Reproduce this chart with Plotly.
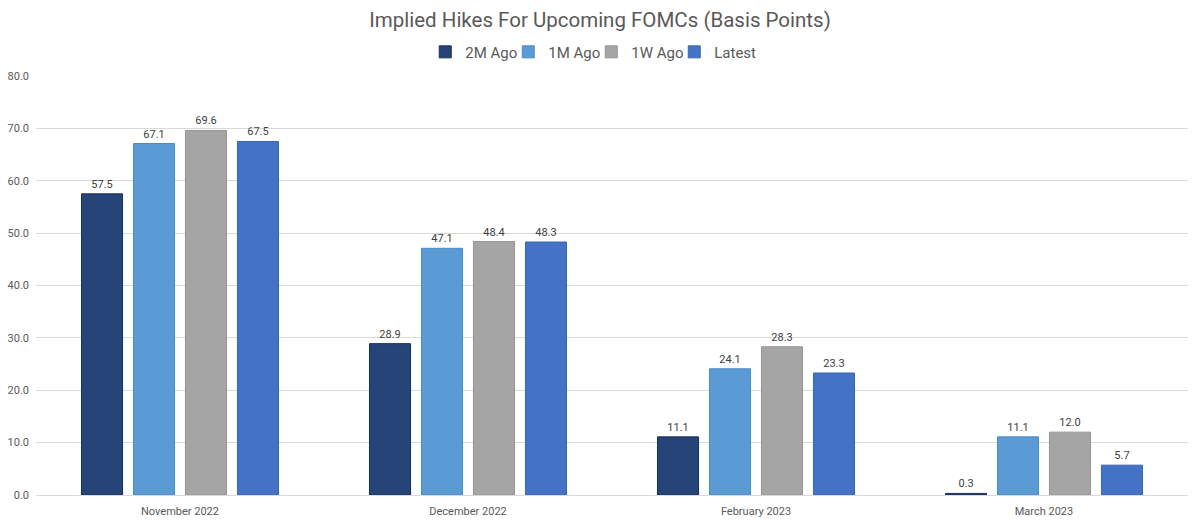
import plotly.graph_objects as go

categories = ["November 2022", "December 2022", "February 2023", "March 2023"]
series_names = ["2M Ago", "1M Ago", "1W Ago", "Latest"]
v_2m = [57.5, 28.9, 11.1, 0.3]
v_1m = [67.1, 47.1, 24.1, 11.1]
v_1w = [69.6, 48.4, 28.3, 12.0]
v_latest = [67.5, 48.3, 23.3, 5.7]
tick_vals = [0, 10, 20, 30, 40, 50, 60, 70, 80]

colors = ["#264478", "#5B9BD5", "#A5A5A5", "#4472C4"]
borders = ["#1a2f55", "#4a8ac4", "#959595", "#3a64b0"]
values = [v_2m, v_1m, v_1w, v_latest]

fig = go.Figure()
for name, vals, c, b in zip(series_names, values, colors, borders):
    fig.add_trace(go.Bar(
        x=categories, y=vals, name=name,
        marker=dict(color=c, line=dict(color=b, width=1)),
        text=[f"{v:.1f}" for v in vals], textposition="outside",
        textfont=dict(size=11, color="#404040"), cliponaxis=False,
    ))

fig.update_layout(
    width=1200, height=523,
    paper_bgcolor="white", plot_bgcolor="white",
    font=dict(family="Roboto, sans-serif", color="#595959"),
    title=dict(text="Implied Hikes For Upcoming FOMCs (Basis Points)", x=0.5, xanchor="center",
               y=0.962, yanchor="middle", font=dict(size=20.5, color="#595959")),
    legend=dict(orientation="h", x=0.482, xanchor="center", y=1.057, yanchor="middle",
                font=dict(size=15, color="#595959"), itemwidth=30, traceorder="normal",
                entrywidth=38),
    barmode="group", bargap=0.278, bargroupgap=0.21,
    margin=dict(l=36, r=12, t=76, b=28),
    showlegend=True,
)
fig.update_xaxes(showline=True, linecolor="#d9d9d9", tickfont=dict(size=11, color="#595959"),
                 ticks="", automargin=False, ticklabelstandoff=6)
fig.update_yaxes(range=[0, 80], tickvals=tick_vals, tickformat=".1f", gridcolor="#d9d9d9",
                 zeroline=False, tickfont=dict(size=11, color="#595959"), ticks="",
                 automargin=False, ticklabelstandoff=6)

fig.write_html("out.html", post_script="document.body.style.margin='0';",
               config={"displayModeBar": False})
